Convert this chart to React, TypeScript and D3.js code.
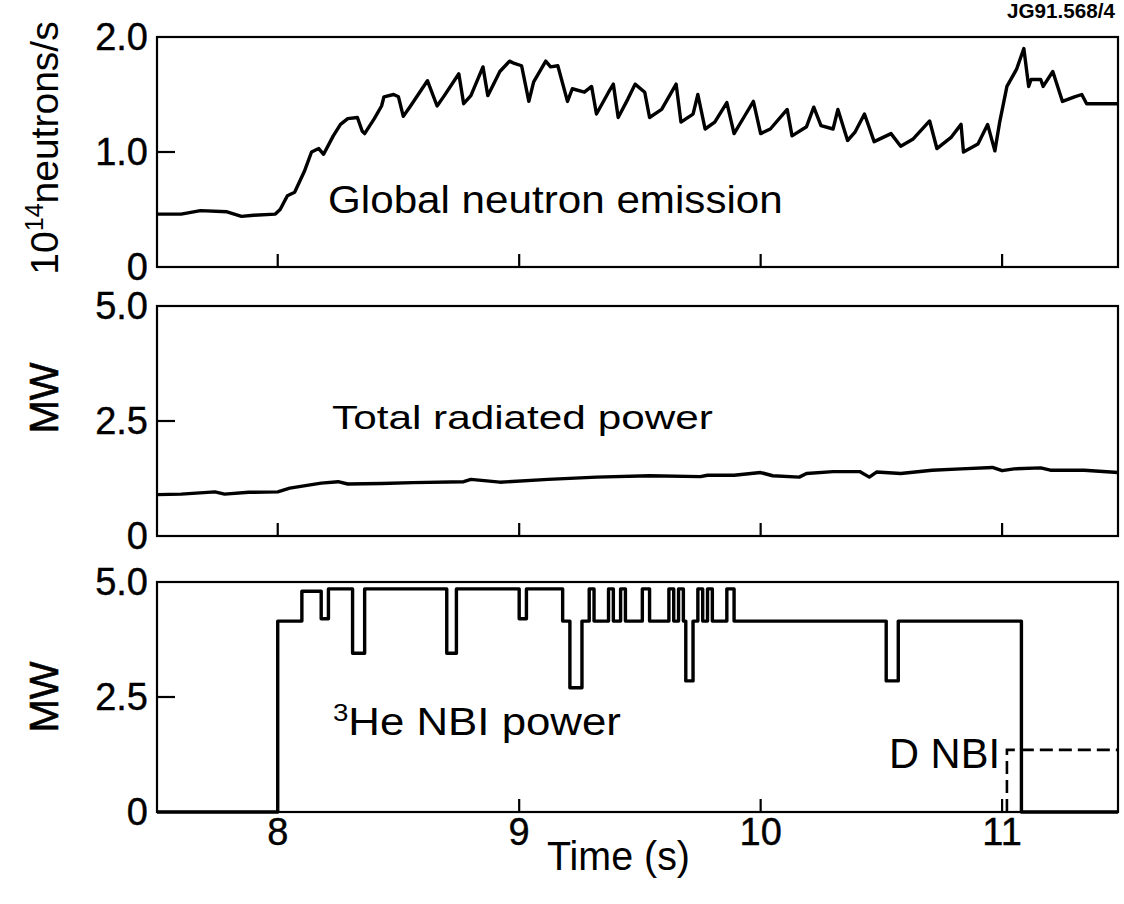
import React, { useEffect, useRef } from 'react'
import * as d3 from 'd3'

// Global neutron emission (10^14 neutrons/s)
const neutronTime = [
  7.50, 7.60, 7.68, 7.79, 7.85, 7.90, 7.99, 8.01, 8.04, 8.07,
  8.11, 8.14, 8.17, 8.19, 8.23, 8.26, 8.29, 8.33, 8.35, 8.36,
  8.40, 8.43, 8.44, 8.48, 8.50, 8.52, 8.55, 8.62, 8.66, 8.69,
  8.75, 8.77, 8.80, 8.85, 8.87, 8.92, 8.96, 8.98, 9.01, 9.04,
  9.06, 9.11, 9.13, 9.16, 9.20, 9.22, 9.27, 9.30, 9.32, 9.37,
  9.39, 9.41, 9.45, 9.48, 9.52, 9.54, 9.59, 9.65, 9.67, 9.72,
  9.74, 9.77, 9.81, 9.86, 9.89, 9.93, 9.97, 10.00, 10.04, 10.11,
  10.13, 10.19, 10.22, 10.25, 10.30, 10.32, 10.36, 10.39, 10.43, 10.47,
  10.54, 10.58, 10.63, 10.70, 10.73, 10.79, 10.83, 10.84, 10.90, 10.94,
  10.97, 10.99, 11.02, 11.06, 11.09, 11.11, 11.12, 11.16, 11.17, 11.21,
  11.25, 11.30, 11.33, 11.35, 11.48
]
const neutronRate = [
  0.46, 0.46, 0.49, 0.48, 0.44, 0.45, 0.46, 0.50, 0.62, 0.65,
  0.83, 1.00, 1.03, 0.98, 1.14, 1.24, 1.29, 1.30, 1.18, 1.16,
  1.29, 1.40, 1.48, 1.50, 1.48, 1.31, 1.40, 1.62, 1.40, 1.49,
  1.68, 1.42, 1.49, 1.74, 1.49, 1.70, 1.79, 1.77, 1.75, 1.44,
  1.61, 1.79, 1.74, 1.75, 1.44, 1.55, 1.52, 1.57, 1.33, 1.52,
  1.59, 1.30, 1.46, 1.59, 1.52, 1.30, 1.37, 1.59, 1.26, 1.33,
  1.50, 1.20, 1.26, 1.43, 1.16, 1.30, 1.44, 1.16, 1.20, 1.37,
  1.14, 1.22, 1.39, 1.23, 1.20, 1.37, 1.10, 1.17, 1.33, 1.09,
  1.16, 1.05, 1.11, 1.27, 1.03, 1.13, 1.24, 1.00, 1.07, 1.24,
  1.01, 1.26, 1.57, 1.72, 1.90, 1.57, 1.63, 1.63, 1.57, 1.70,
  1.44, 1.48, 1.50, 1.42, 1.42
]

// Total radiated power (MW)
const radTime = [
  7.50, 7.60, 7.74, 7.78, 7.88, 8.00, 8.05, 8.18, 8.25, 8.29,
  8.43, 8.56, 8.77, 8.80, 8.92, 9.12, 9.32, 9.54, 9.75, 9.78,
  9.89, 10.00, 10.05, 10.16, 10.19, 10.30, 10.41, 10.45, 10.48, 10.58,
  10.71, 10.83, 10.96, 11.00, 11.05, 11.16, 11.20, 11.34, 11.48
]
const radPower = [
  0.90, 0.91, 0.96, 0.91, 0.95, 0.96, 1.04, 1.15, 1.18, 1.13,
  1.14, 1.16, 1.18, 1.23, 1.17, 1.23, 1.28, 1.31, 1.29, 1.32,
  1.32, 1.38, 1.31, 1.28, 1.36, 1.40, 1.40, 1.28, 1.39, 1.36,
  1.43, 1.46, 1.49, 1.42, 1.46, 1.48, 1.43, 1.43, 1.38
]

// 3He NBI power (MW), step changes
const nbiTime = [
  7.50, 8.00, 8.10, 8.18, 8.21, 8.31, 8.36, 8.70, 8.74, 9.00,
  9.03, 9.18, 9.21, 9.26, 9.29, 9.31, 9.37, 9.39, 9.42, 9.44,
  9.51, 9.54, 9.62, 9.64, 9.66, 9.68, 9.69, 9.72, 9.74, 9.76,
  9.78, 9.80, 9.86, 9.89, 10.52, 10.57, 11.08, 11.48
]
const nbiPower = [
  0, 4.15, 4.8, 4.2, 4.85, 3.45, 4.85, 3.45, 4.85, 4.2,
  4.85, 4.15, 2.7, 4.15, 4.85, 4.15, 4.85, 4.15, 4.85, 4.15,
  4.85, 4.15, 4.85, 4.15, 4.85, 4.15, 2.85, 4.15, 4.85, 4.15,
  4.85, 4.15, 4.85, 4.15, 2.85, 4.15, 0, 0
]

// D NBI power (MW), dashed
const dnbiTime = [11.02, 11.02, 11.48]
const dnbiPower = [0, 1.35, 1.35]

const timeTicks = [8, 9, 10, 11]
const neutronTicks = [0, 1.0, 2.0]
const powerTicks = [0, 2.5, 5.0]

const FONT = '"Liberation Sans", Arial, Helvetica, sans-serif'

export default function App() {
  const ref = useRef<SVGSVGElement>(null)

  useEffect(() => {
    const svg = d3.select(ref.current)
    svg.selectAll('*').remove()

    const x = d3.scaleLinear().domain([7.5, 11.48]).range([157, 1118])
    const fmt = (d: number) => (d === 0 ? '0' : d.toFixed(1))

    const panels = [
      { top: 37, bottom: 267, max: 2.0, ticks: neutronTicks, t: neutronTime, v: neutronRate, step: false },
      { top: 306, bottom: 536, max: 5.0, ticks: powerTicks, t: radTime, v: radPower, step: false },
      { top: 582, bottom: 812, max: 5.0, ticks: powerTicks, t: nbiTime, v: nbiPower, step: true }
    ]

    // stretch a text element horizontally (in its own frame) to a target width
    const fit = (sel: any, tx: number, ty: number, width: number) => {
      const w = (sel.node() as SVGTextElement).getComputedTextLength()
      sel.attr('transform', `translate(${tx},${ty}) scale(${width / w},1)`)
    }

    panels.forEach((p, i) => {
      const y = d3.scaleLinear().domain([0, p.max]).range([p.bottom, p.top])
      const g = svg.append('g')

      g.append('rect')
        .attr('x', x.range()[0])
        .attr('y', p.top)
        .attr('width', x.range()[1] - x.range()[0])
        .attr('height', p.bottom - p.top)
        .attr('fill', 'none')
        .attr('stroke', '#000')
        .attr('stroke-width', 2.2)

      // inward x ticks
      g.selectAll('.xt')
        .data(timeTicks)
        .enter()
        .append('line')
        .attr('x1', d => x(d))
        .attr('x2', d => x(d))
        .attr('y1', p.bottom)
        .attr('y2', p.bottom - 13)
        .attr('stroke', '#000')
        .attr('stroke-width', 2.2)

      // inward y tick at mid value
      g.append('line')
        .attr('x1', x.range()[0])
        .attr('x2', x.range()[0] + 18)
        .attr('y1', y(p.ticks[1]))
        .attr('y2', y(p.ticks[1]))
        .attr('stroke', '#000')
        .attr('stroke-width', 2.2)

      g.selectAll('.yl')
        .data(p.ticks)
        .enter()
        .append('text')
        .attr('x', 148)
        .attr('y', d => y(d) + 13)
        .attr('text-anchor', 'end')
        .attr('font-family', FONT)
        .attr('font-size', 38)
        .attr('stroke', '#000')
        .attr('stroke-width', 0.4)
        .text(d => fmt(d))

      const line = d3.line<number>()
        .x((_, k) => x(p.t[k]))
        .y(d => y(d))
        .curve(p.step ? d3.curveStepAfter : d3.curveLinear)

      g.append('path')
        .attr('d', line(p.v))
        .attr('fill', 'none')
        .attr('stroke', '#000')
        .attr('stroke-width', 3.4)
        .attr('stroke-linejoin', 'round')

      if (i === 2) {
        const dline = d3.line<number>()
          .x((_, k) => x(dnbiTime[k]))
          .y(d => y(d))
        g.append('path')
          .attr('d', dline(dnbiPower))
          .attr('fill', 'none')
          .attr('stroke', '#000')
          .attr('stroke-width', 2.6)
          .attr('stroke-dasharray', '13,6')
      }
    })

    // x tick labels
    svg.selectAll('.xl')
      .data(timeTicks)
      .enter()
      .append('text')
      .attr('x', d => x(d))
      .attr('y', 845)
      .attr('text-anchor', 'middle')
      .attr('font-family', FONT)
      .attr('font-size', 38)
      .attr('stroke', '#000')
      .attr('stroke-width', 0.4)
      .text(d => d)

    const label = (s: string, size: number) =>
      svg.append('text')
        .attr('font-family', FONT)
        .attr('font-size', size)
        .text(s)

    fit(label('Global neutron emission', 39), 328, 213, 455)
    fit(label('Total radiated power', 34), 332, 429, 381)

    const he = svg.append('text')
      .attr('font-family', FONT)
      .attr('font-size', 38)
    he.append('tspan').attr('font-size', 24).attr('dy', -14).text('3')
    he.append('tspan').attr('dy', 14).text('He NBI power')
    fit(he, 333, 735, 288)

    fit(label('D NBI', 42), 889, 768, 111)
    fit(label('Time (s)', 40), 547, 870, 143)

    fit(label('JG91.568/4', 20).attr('font-weight', 'bold'), 1007, 18, 108)

    const yt = svg.append('text')
      .attr('font-family', FONT)
      .attr('font-size', 39)
      .attr('text-anchor', 'middle')
      .attr('transform', 'translate(58,148) rotate(-90)')
    yt.append('tspan').text('10')
    yt.append('tspan').attr('font-size', 25).attr('dy', -15).text('14')
    yt.append('tspan').attr('dy', 15).text('neutrons/s')

    const mw = [398, 697]
    svg.selectAll('.mw')
      .data(mw)
      .enter()
      .append('text')
      .attr('font-family', FONT)
      .attr('font-size', 40)
      .attr('text-anchor', 'middle')
      .attr('stroke', '#000')
      .attr('stroke-width', 0.6)
      .attr('transform', d => `translate(58,${d}) rotate(-90)`)
      .text('MW')
  }, [])

  return (
    <svg
      ref={ref}
      width={1124}
      height={904}
      style={{ position: 'absolute', left: 0, top: 0, background: '#fff' }}
    />
  )
}
